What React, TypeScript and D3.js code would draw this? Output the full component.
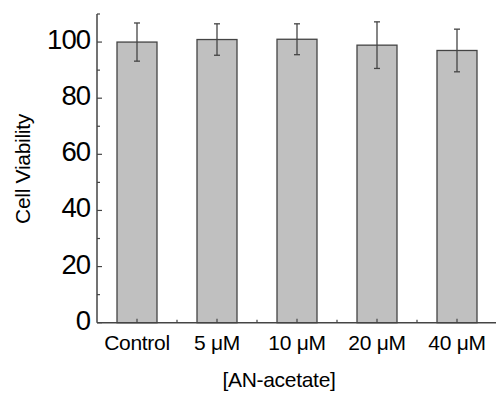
import React, { useEffect, useRef } from 'react';
import * as d3 from 'd3';

const categories = ['Control', '5 \u03bcM', '10 \u03bcM', '20 \u03bcM', '40 \u03bcM'];
const viability = [100, 100.9, 101.0, 98.9, 97.0];
const errors = [6.8, 5.6, 5.5, 8.3, 7.6];
const yTicks = [0, 20, 40, 60, 80, 100];
const yMinorTicks = [10, 30, 50, 70, 90, 110];

const W = 496;
const H = 394;
const FONT = 'Arial, "Liberation Sans", sans-serif';

const App = () => {
  const svgRef = useRef<SVGSVGElement | null>(null);

  useEffect(() => {
    const svg = d3.select(svgRef.current);
    svg.selectAll('*').remove();

    const left = 97;
    const right = 497;
    const top = 14;
    const bottom = 322.7;
    const axisColor = '#444';

    const x = d3.scaleBand<string>().domain(categories).range([left, right]).padding(0.5).paddingOuter(0.25);
    const y = d3.scaleLinear().domain([0, 110]).range([bottom, top]);

    const g = svg.append('g');

    // bars
    g.selectAll('.bar')
      .data(categories)
      .enter()
      .append('rect')
      .attr('class', 'bar')
      .attr('x', (d) => x(d)!)
      .attr('y', (d, i) => y(viability[i]))
      .attr('width', x.bandwidth())
      .attr('height', (d, i) => bottom - y(viability[i]))
      .attr('fill', '#c0c0c0')
      .attr('stroke', axisColor)
      .attr('stroke-width', 1.3);

    // error bars
    const eb = g.selectAll('.err').data(categories).enter().append('g').attr('class', 'err');
    const cx = (d: string) => x(d)! + x.bandwidth() / 2;
    eb.append('line')
      .attr('x1', cx)
      .attr('x2', cx)
      .attr('y1', (d, i) => y(viability[i] + errors[i]))
      .attr('y2', (d, i) => y(viability[i] - errors[i]))
      .attr('stroke', axisColor)
      .attr('stroke-width', 1.3);
    [1, -1].forEach((s) => {
      eb.append('line')
        .attr('x1', (d) => cx(d) - 3)
        .attr('x2', (d) => cx(d) + 3)
        .attr('y1', (d, i) => y(viability[i] + s * errors[i]))
        .attr('y2', (d, i) => y(viability[i] + s * errors[i]))
        .attr('stroke', axisColor)
        .attr('stroke-width', 1.3);
    });

    // axes lines
    g.append('line')
      .attr('x1', left).attr('x2', left)
      .attr('y1', top).attr('y2', bottom)
      .attr('stroke', axisColor).attr('stroke-width', 1.5);
    g.append('line')
      .attr('x1', left).attr('x2', right)
      .attr('y1', bottom).attr('y2', bottom)
      .attr('stroke', axisColor).attr('stroke-width', 1.5);

    // y ticks (inward)
    g.selectAll('.ytick')
      .data(yTicks)
      .enter()
      .append('line')
      .attr('x1', left).attr('x2', left + 5)
      .attr('y1', (d) => y(d)).attr('y2', (d) => y(d))
      .attr('stroke', axisColor).attr('stroke-width', 1.2);
    g.selectAll('.yminor')
      .data(yMinorTicks)
      .enter()
      .append('line')
      .attr('x1', left).attr('x2', left + 3)
      .attr('y1', (d) => y(d)).attr('y2', (d) => y(d))
      .attr('stroke', axisColor).attr('stroke-width', 1.2);
    g.selectAll('.ylabel')
      .data(yTicks)
      .enter()
      .append('text')
      .attr('x', left - 7)
      .attr('y', (d) => y(d) + 7)
      .attr('text-anchor', 'end')
      .attr('font-family', FONT)
      .attr('font-size', 27.5)
      .attr('letter-spacing', -1)
      .attr('fill', '#000')
      .text((d) => d);

    // x ticks (inward): major at centers, minor at boundaries
    g.selectAll('.xtick')
      .data(categories)
      .enter()
      .append('line')
      .attr('x1', cx).attr('x2', cx)
      .attr('y1', bottom).attr('y2', bottom - 4)
      .attr('stroke', axisColor).attr('stroke-width', 1.2);
    const step = x.step();
    g.selectAll('.xminor')
      .data(categories.slice(0, -1))
      .enter()
      .append('line')
      .attr('x1', (d) => cx(d) + step / 2).attr('x2', (d) => cx(d) + step / 2)
      .attr('y1', bottom).attr('y2', bottom - 3)
      .attr('stroke', axisColor).attr('stroke-width', 1.2);
    g.selectAll('.xlabel')
      .data(categories)
      .enter()
      .append('text')
      .attr('x', cx)
      .attr('y', bottom + 27)
      .attr('text-anchor', 'middle')
      .attr('font-family', FONT)
      .attr('font-size', 21)
      .attr('letter-spacing', -0.3)
      .attr('fill', '#000')
      .text((d) => d);

    // titles
    svg.append('text')
      .attr('transform', `translate(30, 169) rotate(-90)`)
      .attr('text-anchor', 'middle')
      .attr('font-family', FONT)
      .attr('font-size', 21)
      .attr('letter-spacing', -0.3)
      .attr('fill', '#000')
      .text('Cell Viability');
    svg.append('text')
      .attr('x', 279)
      .attr('y', 387)
      .attr('text-anchor', 'middle')
      .attr('font-family', FONT)
      .attr('font-size', 21)
      .attr('letter-spacing', -0.3)
      .attr('fill', '#000')
      .text('[AN-acetate]');
  }, []);

  return (
    <svg
      ref={svgRef}
      width={W}
      height={H}
      style={{ position: 'absolute', left: 0, top: 0, background: '#fff' }}
    />
  );
};

export default App;
